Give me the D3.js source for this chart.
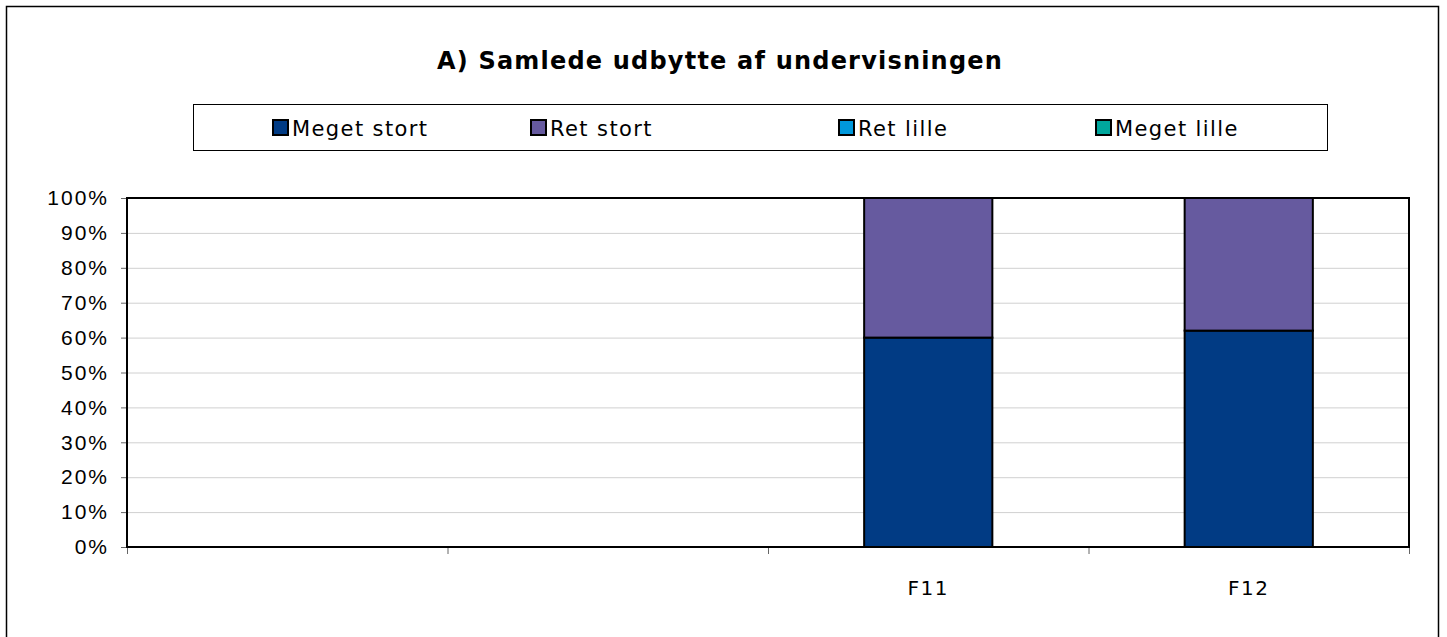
<!DOCTYPE html>
<html>
<head>
<meta charset="utf-8">
<script src="https://cdn.jsdelivr.net/npm/d3@7"></script>
<style>
  body { margin: 0; background: #fff; }
  svg { display: block; font-family: "DejaVu Sans", sans-serif; }
</style>
</head>
<body>
<div id="chart"></div>
<script>
// categories on the x axis (first two are empty slots)
const categories = ["", " ", "F11", "F12"];
// series names and colours
const seriesNames = ["Meget stort", "Ret stort", "Ret lille", "Meget lille"];
const seriesColors = ["#013b84", "#665a9f", "#0098dc", "#00a79d"];
// share per category, in percent
const megetStort = [null, null, 60, 62];
const retStort = [null, null, 40, 38];
const retLille = [null, null, 0, 0];
const megetLille = [null, null, 0, 0];
const yTicks = [0, 10, 20, 30, 40, 50, 60, 70, 80, 90, 100];

const width = 1447, height = 637;
const plot = { left: 127, right: 1409, top: 198, bottom: 547 };

const svg = d3.select("#chart").append("svg")
    .attr("width", width)
    .attr("height", height);

// outer frame
svg.append("rect")
    .attr("x", 6.5).attr("y", 6.5)
    .attr("width", 1432).attr("height", 650)
    .attr("fill", "none")
    .attr("stroke", "#000")
    .attr("stroke-width", 1.5);

svg.append("text")
    .attr("x", 720).attr("y", 69)
    .attr("text-anchor", "middle")
    .style("font-size", "24px")
    .style("font-weight", "bold")
    .style("letter-spacing", "1.2px")
    .text("A) Samlede udbytte af undervisningen");

// legend
const legend = svg.append("g");
legend.append("rect")
    .attr("x", 193.5).attr("y", 104.5)
    .attr("width", 1134).attr("height", 46)
    .attr("fill", "#fff")
    .attr("stroke", "#000")
    .attr("stroke-width", 1);
const legendX = [273, 531, 839, 1096];
seriesNames.forEach((name, i) => {
    const g = legend.append("g").attr("transform", `translate(${legendX[i]},128)`);
    g.append("rect")
        .attr("x", 0).attr("y", -8)
        .attr("width", 15).attr("height", 15)
        .attr("fill", seriesColors[i])
        .attr("stroke", "#000")
        .attr("stroke-width", 2);
    g.append("text")
        .attr("x", 19).attr("y", 8)
        .style("font-size", "21px")
        .style("letter-spacing", "1.4px")
        .text(name);
});

const x = d3.scaleBand()
    .domain(categories)
    .range([plot.left, plot.right])
    .paddingInner(0.6)
    .paddingOuter(0.3);

const xOuter = d3.scaleBand()
    .domain(categories)
    .range([plot.left, plot.right]);

const y = d3.scaleLinear()
    .domain([0, 100])
    .range([plot.bottom, plot.top]);

// gridlines
svg.append("g")
    .selectAll("line")
    .data(yTicks.slice(1, -1))
    .join("line")
    .attr("x1", plot.left).attr("x2", plot.right)
    .attr("y1", d => y(d) + 0.5).attr("y2", d => y(d) + 0.5)
    .attr("stroke", "#d0d0d0")
    .attr("stroke-width", 1);

// y axis
const yAxis = svg.append("g")
    .attr("transform", `translate(${plot.left},0)`)
    .call(d3.axisLeft(y).tickValues(yTicks).tickFormat(d => d + "%").tickSize(6).tickPadding(12));
yAxis.select(".domain").remove();
yAxis.selectAll(".tick line").attr("stroke", "#666");
yAxis.selectAll("text")
    .style("font-size", "21px")
    .style("letter-spacing", "2px")
    .attr("fill", "#000");

// x axis ticks at category boundaries
const xBounds = categories.map(c => xOuter(c)).concat([plot.right]);
svg.append("g")
    .selectAll("line")
    .data(xBounds)
    .join("line")
    .attr("x1", d => d + 0.5).attr("x2", d => d + 0.5)
    .attr("y1", plot.bottom).attr("y2", plot.bottom + 7)
    .attr("stroke", "#666");

svg.append("g")
    .selectAll("text")
    .data(categories)
    .join("text")
    .attr("x", d => x(d) + x.bandwidth() / 2)
    .attr("y", plot.bottom + 48)
    .attr("text-anchor", "middle")
    .style("font-size", "20px")
    .style("letter-spacing", "1.5px")
    .text(d => d.trim());

// stacked bars
const rows = categories.map((c, i) => ({
    cat: c,
    "Meget stort": megetStort[i] || 0,
    "Ret stort": retStort[i] || 0,
    "Ret lille": retLille[i] || 0,
    "Meget lille": megetLille[i] || 0
}));
const stacked = d3.stack().keys(seriesNames)(rows);

svg.append("g")
    .selectAll("g")
    .data(stacked)
    .join("g")
    .attr("fill", (d, i) => seriesColors[i])
    .selectAll("rect")
    .data(d => d.filter(p => p[1] - p[0] > 0))
    .join("rect")
    .attr("x", d => x(d.data.cat))
    .attr("y", d => y(d[1]))
    .attr("width", x.bandwidth())
    .attr("height", d => y(d[0]) - y(d[1]))
    .attr("stroke", "#000")
    .attr("stroke-width", 2);

// plot frame
svg.append("rect")
    .attr("x", plot.left).attr("y", plot.top)
    .attr("width", plot.right - plot.left)
    .attr("height", plot.bottom - plot.top)
    .attr("fill", "none")
    .attr("stroke", "#000")
    .attr("stroke-width", 2);
</script>
</body>
</html>
